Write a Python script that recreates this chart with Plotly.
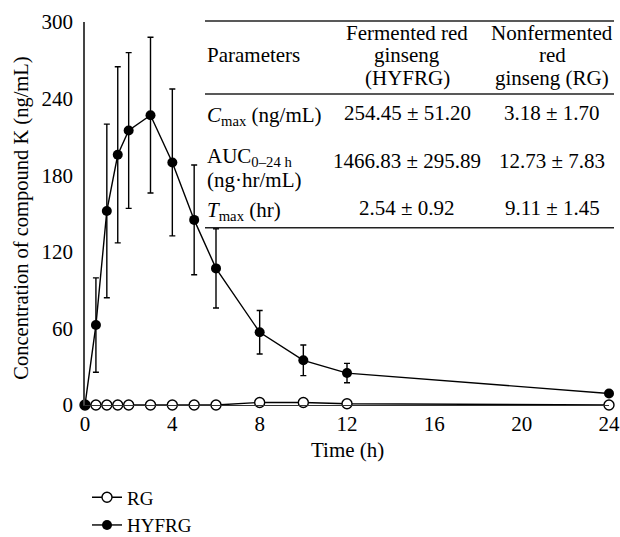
import plotly.graph_objects as go

# ---- data ----
time_h = [0, 0.5, 1, 1.5, 2, 3, 4, 5, 6, 8, 10, 12, 24]
rg_conc = [0, 0, 0, 0, 0, 0, 0, 0, 0, 2, 2, 1, 0]
hyfrg_conc = [0, 62.6, 152, 196, 215, 227, 190, 145, 107, 57, 35, 25, 9]
hyfrg_sd = [0, 37, 68, 69, 61, 61, 57.5, 43, 31, 17, 12, 7.6, 0]

x_ticks = [0, 4, 8, 12, 16, 20, 24]
y_ticks = [0, 60, 120, 180, 240, 300]

header_param = "Parameters"
header_hyfrg = ["Fermented red", "ginseng", "(HYFRG)"]
header_rg = ["Nonfermented", "red", "ginseng (RG)"]
table_params = [["<i>C</i><sub>max</sub> (ng/mL)"], ["AUC<sub>0–24 h</sub>", "(ng·hr/mL)"], ["<i>T</i><sub>max</sub> (hr)"]]
table_hyfrg = ["254.45 ± 51.20", "1466.83 ± 295.89", "2.54 ± 0.92"]
table_rg = ["3.18 ± 1.70", "12.73 ± 7.83", "9.11 ± 1.45"]

FONT = "Liberation Serif"
FS = 21
W, H = 620, 537
# plot area in pixel coordinates
X0, X1, Y0, Y1 = 85, 609, 22, 405.5
L, R, T, B = X0, W - X1, Y0, H - Y1
PW = X1 - X0
PH = Y1 - Y0


def px(xp):
    return (xp - X0) / PW


def py(yp):
    return (Y1 - yp) / PH


fig = go.Figure()
fig.add_trace(go.Scatter(
    x=time_h, y=rg_conc, name="RG", mode="lines+markers",
    line=dict(color="black", width=1.4),
    marker=dict(symbol="circle", size=10, color="white", line=dict(color="black", width=1.4)),
    cliponaxis=False,
))
fig.add_trace(go.Scatter(
    x=time_h, y=hyfrg_conc, name="HYFRG", mode="lines+markers",
    line=dict(color="black", width=1.4),
    marker=dict(symbol="circle", size=10, color="black"),
    error_y=dict(type="data", array=hyfrg_sd, visible=True, color="black", thickness=1.4, width=3),
    cliponaxis=False,
))

# table lines
for yl in [21, 94, 228]:
    fig.add_shape(type="line", xref="paper", yref="paper",
                  x0=px(205), x1=px(614), y0=py(yl), y1=py(yl),
                  line=dict(color="#222", width=1.5))

ann = []
ann.append(dict(x=px(205), y=py(55), text=header_param, xanchor="left"))
for i, yy in enumerate([33, 55, 78]):
    ann.append(dict(x=px(407), y=py(yy), text=header_hyfrg[i], xanchor="center"))
    ann.append(dict(x=px(552), y=py(yy), text=header_rg[i], xanchor="center"))
param_y = [[116], [157, 180], [211]]
val_y = [113, 161, 208]
for i in range(3):
    for t, yy in zip(table_params[i], param_y[i]):
        ann.append(dict(x=px(205), y=py(yy), text=t, xanchor="left", align="left"))
    ann.append(dict(x=px(407), y=py(val_y[i]), text=table_hyfrg[i], xanchor="center"))
    ann.append(dict(x=px(552), y=py(val_y[i]), text=table_rg[i], xanchor="center"))

ann.append(dict(x=px(22), y=py(219), text="Concentration of compound K (ng/mL)", textangle=-90,
                xanchor="center", size=20.5))
ann.append(dict(x=px(347), y=py(451), text="Time (h)", xanchor="center"))

for a in ann:
    sz = a.pop("size", FS)
    a.update(xref="paper", yref="paper", showarrow=False, yanchor="middle",
             font=dict(family=FONT, size=sz, color="black"))
    if "align" not in a:
        a["align"] = "center"

fig.update_layout(
    width=W, height=H,
    margin=dict(l=L, r=R, t=T, b=B, autoexpand=False),
    paper_bgcolor="white", plot_bgcolor="white",
    font=dict(family=FONT, size=FS, color="black"),
    annotations=ann,
    showlegend=True,
    legend=dict(x=px(87), y=py(479), xanchor="left", yanchor="top",
                font=dict(family=FONT, size=19), tracegroupgap=0,
                bgcolor="rgba(0,0,0,0)", itemwidth=30),
    xaxis=dict(range=[0, 24], tickvals=x_ticks, showgrid=False, zeroline=False,
               showline=True, linecolor="#333", linewidth=1.3, ticks="", automargin=False,
               tickfont=dict(family=FONT, size=FS)),
    yaxis=dict(range=[0, 300], tickvals=y_ticks, showgrid=False, zeroline=False,
               showline=True, linecolor="#444", linewidth=1.5, ticks="", automargin=False,
               ticklabelstandoff=6, tickfont=dict(family=FONT, size=FS)),
)

fig.write_html("out.html", config={"displayModeBar": False},
               post_script="document.body.style.margin='0';document.body.style.overflow='hidden';")
